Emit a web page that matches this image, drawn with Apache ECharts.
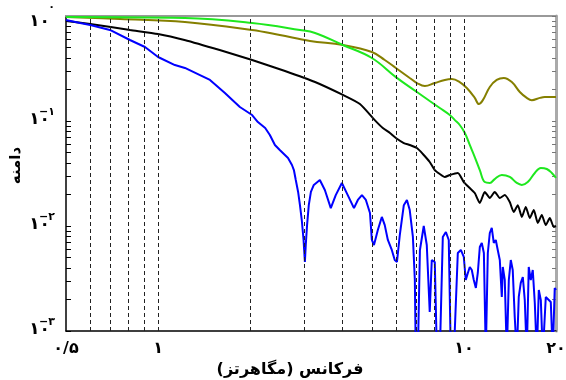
<!DOCTYPE html>
<html>
<head>
<meta charset="utf-8">
<script src="https://cdn.jsdelivr.net/npm/echarts@6/dist/echarts.min.js"></script>
<style>
html,body{margin:0;padding:0;background:#fff;}
#chart{width:566px;height:380px;}
</style>
</head>
<body>
<div id="chart"></div>
<script>
//محور ها
var xTickVals = [0.5, 1, 10, 20];
var xTickText = ['۰/۵', '۱', '۱۰', '۲۰'];
var yTickVals = [0.001, 0.01, 0.1, 1];
var yTickExp = ['−۳', '−۲', '−۱', '۰'];
var dashFreqs = [0.6, 0.7, 0.8, 0.9, 1, 2, 3, 4, 5, 6, 7, 8, 9, 10];

//منحنی سیاه
var blackFreq = [0.5,0.6,0.7,0.81,1.0,1.22,1.59,2.03,2.6,3.26,4.02,4.57,5.11,5.43,5.73,5.99,6.36,6.65,7.02,7.34,7.73,8.03,8.34,8.66,8.99,9.55,9.99,10.45,10.85,11.27,11.7,12.15,12.61,13.1,13.6,14.12,14.55,15.0,15.46,15.93,16.42,16.92,17.44,17.97,18.52,19.09,19.67,20];
var blackAmp = [0.896,0.839,0.786,0.736,0.674,0.591,0.474,0.381,0.299,0.235,0.177,0.145,0.102,0.0858,0.0769,0.0689,0.0617,0.0591,0.0553,0.0485,0.0407,0.0341,0.0313,0.0293,0.0306,0.032,0.0262,0.023,0.0206,0.0166,0.0211,0.0185,0.0211,0.0185,0.0197,0.0169,0.0136,0.0158,0.0122,0.0152,0.0119,0.0142,0.0107,0.0127,0.0102,0.0119,0.0098,0.01];

//منحنی زیتونی
var oliveFreq = [0.5,0.751,1.224,2.03,2.5,3.14,4.02,5.0,5.51,5.99,6.65,7.02,7.45,8.03,8.66,9.13,9.69,10.22,10.85,11.19,11.53,12.15,12.8,13.5,14.34,15.23,16.05,16.67,17.7,18.38,20];
var oliveAmp = [0.978,0.936,0.877,0.736,0.659,0.578,0.529,0.454,0.381,0.32,0.257,0.23,0.215,0.23,0.246,0.251,0.235,0.206,0.166,0.145,0.158,0.211,0.246,0.257,0.235,0.189,0.166,0.158,0.166,0.169,0.169];

//منحنی سبز
var greenFreq = [0.5,1.224,2.03,2.91,3.26,4.02,5.0,5.99,7.02,7.73,8.34,8.99,9.34,9.69,10.07,10.45,10.85,11.27,11.7,12.15,12.61,13.3,14.12,14.89,15.46,16.17,17.05,17.84,18.66,19.38,20];
var greenAmp = [0.978,0.957,0.858,0.736,0.689,0.529,0.398,0.262,0.189,0.155,0.133,0.114,0.102,0.0916,0.0769,0.0591,0.0454,0.0341,0.0262,0.0257,0.028,0.0306,0.0293,0.0257,0.0246,0.0262,0.032,0.0357,0.0349,0.032,0.0287];

//منحنی آبی
var blueFreq = [0.5,0.556,0.6,0.696,0.809,0.906,1.0,1.135,1.224,1.371,1.478,1.654,1.851,2.03,2.12,2.24,2.32,2.41,2.5,2.66,2.74,2.78,2.82,2.87,2.91,2.95,2.99,3.02,3.04,3.07,3.11,3.16,3.23,3.38,3.51,3.67,3.81,3.99,4.17,4.37,4.5,4.64,4.78,4.93,5.0,5.08,5.15,5.23,5.39,5.51,5.64,5.81,5.94,6.04,6.17,6.36,6.51,6.65,6.81,6.91,6.96,7.07,7.18,7.39,7.56,7.73,7.85,8.03,8.16,8.34,8.53,8.73,8.92,9.06,9.27,9.55,9.77,9.99,10.14,10.3,10.45,10.61,10.77,10.94,11.1,11.27,11.44,11.62,11.79,11.97,12.15,12.33,12.52,12.71,12.9,13.1,13.3,13.4,13.6,13.81,14.02,14.23,14.44,14.66,14.89,15.11,15.34,15.58,15.81,16.05,16.29,16.54,16.79,17.05,17.31,17.57,17.84,18.11,18.52,18.8,19.23,19.52,19.81,20];
var blueAmp = [0.916,0.858,0.821,0.736,0.591,0.507,0.407,0.341,0.32,0.274,0.246,0.185,0.136,0.114,0.0978,0.0858,0.0736,0.0591,0.0529,0.0444,0.0381,0.0341,0.0274,0.0211,0.0158,0.0114,0.00736,0.00454,0.00659,0.0102,0.0158,0.0211,0.0246,0.0274,0.022,0.0148,0.0197,0.0257,0.0197,0.0148,0.0177,0.0197,0.0177,0.0133,0.00736,0.00659,0.00769,0.00916,0.0122,0.0102,0.00736,0.00591,0.00474,0.00454,0.0082,0.0158,0.0177,0.0142,0.00786,0.00306,0.0006,0.0006,0.00591,0.01,0.00659,0.00152,0.00474,0.00454,0.0006,0.0006,0.00786,0.00877,0.00736,0.0006,0.0006,0.00553,0.00591,0.00507,0.00306,0.00357,0.00407,0.00381,0.00306,0.00257,0.00357,0.00631,0.00689,0.00553,0.0006,0.00553,0.00858,0.0096,0.00689,0.00736,0.00591,0.00474,0.00211,0.00407,0.00306,0.0006,0.00306,0.00474,0.00381,0.00136,0.0006,0.00211,0.00287,0.00327,0.00197,0.0006,0.00407,0.00306,0.00381,0.00185,0.0006,0.00246,0.00197,0.0006,0.00211,0.0022,0.00189,0.0006,0.00257,0.00246];

var FONT = 'DejaVu Sans';

function pairs(f, a) {
	var out = [];
	for (var i = 0; i < f.length; i++) out.push([f[i], a[i]]);
	return out;
}
function nearest(vals, v) {
	var best = 0;
	for (var i = 1; i < vals.length; i++) {
		if (Math.abs(Math.log10(vals[i]) - Math.log10(v)) < Math.abs(Math.log10(vals[best]) - Math.log10(v))) best = i;
	}
	return best;
}
// تیک های فرعی لگاریتمی
var minorTicks = [];
[0.001, 0.01, 0.1].forEach(function(d) {
	for (var k = 1; k < 10; k++) minorTicks.push(+(k * d).toPrecision(3));
});
minorTicks.push(1);

var baseStyle = function(padBottom) {
	return {fontFamily: FONT, fontSize: 17, fontWeight: 'bold', color: '#000', lineHeight: 18, padding: [0, 5, padBottom, 0]};
};

var chart = echarts.init(document.getElementById('chart'));
var option = {
	animation: false,
	backgroundColor: '#fff',
	grid: {left: 66, right: 10, top: 16, bottom: 49, containLabel: false, outerBoundsMode: 'none'},
	xAxis: [{
		type: 'log', min: 0.5, max: 20, logBase: 10,
		name: 'فرکانس (مگاهرتز)\u200F',
		nameLocation: 'middle', nameGap: 27,
		nameTextStyle: {fontFamily: FONT, fontSize: 16, fontWeight: 'bold', color: '#000', padding: [0, 42, 0, 0]},
		axisLine: {lineStyle: {color: '#000', width: 1.5}},
		axisTick: {show: false},
		splitLine: {show: false},
		axisLabel: {
			customValues: xTickVals,
			margin: 10, color: '#000', fontFamily: FONT, fontSize: 16, fontWeight: 'bold',
			formatter: function(v) { return xTickText[nearest(xTickVals, v)]; }
		}
	}, {
		type: 'log', min: 0.5, max: 20, position: 'top',
		axisLine: {lineStyle: {color: '#999', width: 2}},
		axisTick: {show: false}, axisLabel: {show: false}, splitLine: {show: false}
	}],
	yAxis: [{
		type: 'log', min: 0.001, max: 1, logBase: 10,
		name: 'دامنه', nameLocation: 'middle', nameGap: 42, nameMoveOverlap: false,
		nameTextStyle: {fontFamily: FONT, fontSize: 15, fontWeight: 'bold', color: '#000', padding: [0, 0, 0, 16]},
		axisLine: {lineStyle: {color: '#000', width: 1.5}},
		axisTick: {inside: true, length: 5, customValues: minorTicks, lineStyle: {color: '#000'}},
		splitLine: {show: false},
		axisLabel: {
			customValues: yTickVals,
			margin: 11,
			formatter: function(v) {
				var i = nearest(yTickVals, v);
				var tag = i === yTickVals.length - 1 ? 'tp' : 'b';
				return '{e|' + yTickExp[i] + '}\n{' + tag + '|۱۰}';
			},
			rich: {
				e: {fontFamily: FONT, fontSize: 11, fontWeight: 'bold', color: '#000', lineHeight: 11},
				b: baseStyle(14),
				tp: baseStyle(0)
			}
		}
	}, {
		type: 'log', min: 0.001, max: 1, position: 'right',
		axisLine: {lineStyle: {color: '#aaa', width: 3}},
		axisTick: {inside: true, length: 4, customValues: minorTicks, lineStyle: {color: '#777'}},
		axisLabel: {show: false}, splitLine: {show: false}
	}],
	series: [{
		type: 'line', data: [], z: 1, silent: true,
		markLine: {
			silent: true, symbol: ['none', 'none'], label: {show: false}, animation: false,
			lineStyle: {color: '#222', type: [4, 3], width: 1},
			data: dashFreqs.map(function(f) { return {xAxis: f}; })
		}
	}, {
		name: 'olive', type: 'line', showSymbol: false, smooth: 0.4,
		lineStyle: {color: '#857f00', width: 2}, data: pairs(oliveFreq, oliveAmp)
	}, {
		name: 'green', type: 'line', showSymbol: false, smooth: 0.4,
		lineStyle: {color: '#1ee81e', width: 2}, data: pairs(greenFreq, greenAmp)
	}, {
		name: 'black', type: 'line', showSymbol: false, smooth: 0.2,
		lineStyle: {color: '#000', width: 2}, data: pairs(blackFreq, blackAmp)
	}, {
		name: 'blue', type: 'line', showSymbol: false,
		lineStyle: {color: '#0000ff', width: 2}, data: pairs(blueFreq, blueAmp)
	}]
};
chart.setOption(option);
</script>
</body>
</html>
